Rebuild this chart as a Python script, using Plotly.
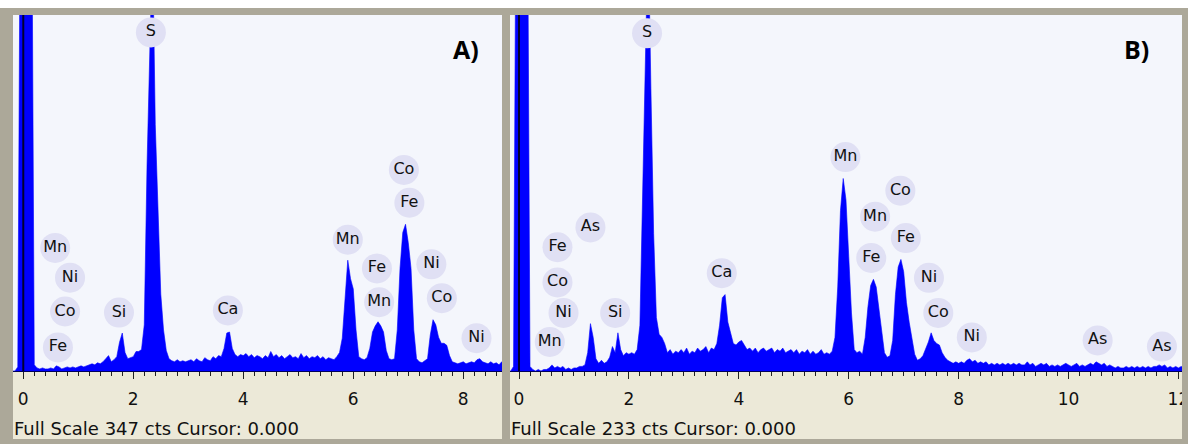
import numpy as np
import plotly.graph_objs as go

W, H = 1191, 444

# EDS spectra: counts per 0.05 keV channel, first channel at -0.20 keV
chan_start = -0.20
chan_step = 0.05

counts_a = [
    0, 0, 4, 520,
    # 0.00 - 0.95
    520, 520, 520, 520, 6, 3, 2, 3, 2, 2, 3, 2, 5, 4, 2, 3, 4, 3, 4, 3,
    # 1.00 - 1.95
    4, 5, 4, 5, 6, 7, 6, 8, 7, 9, 12, 15, 9, 11, 14, 28, 37, 18, 12, 13,
    # 2.00 - 2.95
    14, 19, 19, 21, 45, 200, 340, 420, 240, 160, 75, 40, 20, 12, 10, 9, 11, 9, 10, 9,
    # 3.00 - 3.95
    10, 11, 9, 12, 10, 9, 13, 11, 10, 14, 12, 15, 14, 22, 37, 38, 22, 16, 14, 16,
    # 4.00 - 4.95
    15, 17, 14, 16, 13, 15, 14, 12, 15, 13, 19, 14, 16, 13, 15, 12, 14, 16, 13, 14,
    # 5.00 - 5.95
    12, 17, 13, 15, 12, 14, 13, 15, 12, 14, 11, 13, 12, 11, 14, 18, 32, 75, 108, 90,
    # 6.00 - 6.95
    80, 40, 14, 12, 11, 13, 22, 38, 44, 48, 44, 38, 20, 12, 11, 12, 40, 100, 135, 143,
    # 7.00 - 7.95
    125, 100, 40, 12, 9, 8, 10, 12, 35, 50, 45, 33, 27, 27, 25, 15, 9, 8, 7, 8,
    # 8.00 - 8.75
    9, 7, 8, 9, 8, 11, 12, 9, 8, 7, 9, 7, 8, 6, 9, 7,
]

counts_b = [
    0, 0, 3, 350,
    # 0.00 - 0.95
    350, 350, 350, 350, 3, 1, 0, 1, 0, 1, 1, 2, 4, 2, 3, 2, 3, 1, 2, 1,
    # 1.00 - 1.95
    2, 2, 3, 3, 4, 12, 31, 22, 8, 5, 7, 5, 6, 9, 16, 12, 25, 14, 10, 12,
    # 2.00 - 2.95
    11, 12, 11, 14, 30, 110, 200, 290, 185, 90, 35, 24, 22, 18, 12, 14, 11, 13, 12, 14,
    # 3.00 - 3.95
    12, 15, 11, 13, 12, 15, 13, 14, 16, 12, 15, 14, 18, 30, 48, 50, 32, 24, 18, 17,
    # 4.00 - 4.95
    19, 20, 17, 14, 15, 13, 15, 12, 14, 15, 13, 14, 15, 12, 14, 13, 15, 12, 13, 14,
    # 5.00 - 5.95
    12, 14, 11, 13, 12, 14, 11, 13, 11, 12, 14, 11, 12, 11, 13, 22, 55, 105, 126, 112,
    # 6.00 - 6.95
    75, 38, 14, 12, 13, 11, 22, 42, 56, 60, 55, 40, 24, 12, 9, 10, 20, 50, 68, 73,
    # 7.00 - 7.95
    65, 45, 32, 22, 11, 7, 8, 10, 14, 19, 25, 20, 18, 17, 12, 9, 7, 6, 5, 6,
    # 8.00 - 8.95
    5, 6, 5, 7, 8, 6, 7, 5, 6, 5, 6, 4, 5, 4, 5, 4, 5, 4, 5, 4,
    # 9.00 - 9.95
    5, 4, 5, 4, 4, 6, 4, 5, 3, 4, 5, 4, 5, 3, 4, 3, 4, 3, 4, 5,
    # 10.00 - 10.95
    4, 3, 4, 5, 3, 4, 3, 4, 5, 4, 6, 5, 4, 5, 3, 4, 3, 2, 3, 2,
    # 11.00 - 11.95
    2, 3, 2, 3, 2, 3, 2, 3, 2, 3, 2, 3, 3, 4, 3, 4, 2, 3, 2, 3,
    # 12.00 - 12.15
    2, 3, 2, 3,
]

full_scale_a = 347
full_scale_b = 233

# peak labels: element, energy (keV), label height (cts)
lab_a_el = ["S", "Mn", "Ni", "Co", "Fe", "Si", "Ca", "Mn", "Fe", "Mn",
            "Co", "Fe", "Ni", "Co", "Ni"]
lab_a_kev = [2.32, 0.58, 0.85, 0.76, 0.63, 1.74, 3.72, 5.90, 6.43, 6.47,
             6.92, 7.02, 7.42, 7.61, 8.24]
lab_a_cts = [330, 120, 91, 58, 23, 57, 59, 128, 100, 67,
             196, 164, 104, 71, 32]

lab_b_el = ["S", "As", "Fe", "Co", "Ni", "Mn", "Si", "Ca", "Mn", "Co",
            "Mn", "Fe", "Fe", "Ni", "Co", "Ni", "As", "As"]
lab_b_kev = [2.33, 1.30, 0.70, 0.70, 0.81, 0.56, 1.75, 3.69, 5.94, 6.94,
             6.48, 7.04, 6.41, 7.46, 7.63, 8.24, 10.53, 11.70]
lab_b_cts = [221, 94, 81, 58, 38, 19, 38, 64, 140, 118,
             101, 87, 74, 61, 38, 22, 20, 16]

tick_vals_a = [0, 2, 4, 6, 8]
tick_vals_b = [0, 2, 4, 6, 8, 10, 12]


def px(x):
    return x / W


def py(y):
    return 1 - y / H


energy_a = chan_start + chan_step * np.arange(len(counts_a))
energy_b = chan_start + chan_step * np.arange(len(counts_b))

BLUE = "#0000ff"
PLOTBG = "#f4f6fc"
GRAY = "#aca899"
BEIGE = "#ece9d8"
BUBBLE = "#e0e0f4"
FONT = "DejaVu Sans"

fig = go.Figure()

panels = [
    (energy_a, counts_a, full_scale_a, lab_a_el, lab_a_kev, lab_a_cts, "x", "y"),
    (energy_b, counts_b, full_scale_b, lab_b_el, lab_b_kev, lab_b_cts, "x2", "y2"),
]
for en, cts, fs, el, kev, lh, xa, ya in panels:
    fig.add_trace(go.Scatter(x=en, y=cts, mode="lines", fill="tozeroy",
                             line=dict(color=BLUE, width=0.6), fillcolor=BLUE,
                             xaxis=xa, yaxis=ya, hoverinfo="skip"))
    # cursor at 0.000
    fig.add_trace(go.Scatter(x=[0, 0], y=[0, fs], mode="lines",
                             line=dict(color="#000030", width=2),
                             xaxis=xa, yaxis=ya, hoverinfo="skip"))
    fig.add_trace(go.Scatter(x=kev, y=lh, mode="markers+text", text=el,
                             textposition="middle center",
                             textfont=dict(family=FONT, size=16, color="#111"),
                             marker=dict(symbol="circle", size=30, color=BUBBLE,
                                         line=dict(width=0)),
                             xaxis=xa, yaxis=ya, hoverinfo="skip", cliponaxis=False))

# frames and backgrounds (pixel geometry of the instrument screenshot)
shapes = [
    dict(type="rect", xref="paper", yref="paper", x0=px(0), x1=px(1188), y0=py(444), y1=py(8),
         fillcolor=GRAY, line=dict(width=0), layer="below"),
    dict(type="rect", xref="paper", yref="paper", x0=px(13), x1=px(502), y0=py(371), y1=py(15),
         fillcolor=PLOTBG, line=dict(width=0), layer="below"),
    dict(type="rect", xref="paper", yref="paper", x0=px(510), x1=px(1182), y0=py(371), y1=py(15),
         fillcolor=PLOTBG, line=dict(width=0), layer="below"),
    dict(type="rect", xref="paper", yref="paper", x0=px(13), x1=px(502), y0=py(439), y1=py(371),
         fillcolor=BEIGE, line=dict(width=0), layer="below"),
    dict(type="rect", xref="paper", yref="paper", x0=px(510), x1=px(1182), y0=py(439), y1=py(371),
         fillcolor=BEIGE, line=dict(width=0), layer="below"),
    # right border drawn on top so the last tick label gets clipped
    dict(type="rect", xref="paper", yref="paper", x0=px(1182), x1=px(1188), y0=py(444), y1=py(8),
         fillcolor=GRAY, line=dict(width=0), layer="above"),
    dict(type="rect", xref="paper", yref="paper", x0=px(1188), x1=px(1191), y0=py(444), y1=py(0),
         fillcolor="white", line=dict(width=0), layer="above"),
]

axis_common = dict(showgrid=False, zeroline=False, showline=True, linecolor="#00005a",
                   linewidth=1, ticks="outside", ticklen=7, tickcolor="#222",
                   tickwidth=1, ticklabelstandoff=6, automargin=False,
                   tickfont=dict(family=FONT, size=17, color="#111"),
                   minor=dict(dtick=0.2, ticks="outside", ticklen=4, tickcolor="#222"),
                   fixedrange=True)
yaxis_common = dict(visible=False, fixedrange=True, automargin=False,
                    domain=[py(371), py(15)])

annotations = [
    dict(text="Full Scale 347 cts Cursor: 0.000", xref="paper", yref="paper",
         x=px(12), y=py(428), xanchor="left", yanchor="middle", showarrow=False,
         font=dict(family=FONT, size=18, color="#111")),
    dict(text="Full Scale 233 cts Cursor: 0.000", xref="paper", yref="paper",
         x=px(509), y=py(428), xanchor="left", yanchor="middle", showarrow=False,
         font=dict(family=FONT, size=18, color="#111")),
    dict(text="<b>A)</b>", xref="paper", yref="paper", x=px(466), y=py(49),
         xanchor="center", yanchor="middle", showarrow=False,
         font=dict(family="Open Sans", size=25, color="#000")),
    dict(text="<b>B)</b>", xref="paper", yref="paper", x=px(1136), y=py(49),
         xanchor="center", yanchor="middle", showarrow=False,
         font=dict(family="Open Sans", size=25, color="#000")),
]

fig.update_layout(
    width=W, height=H, margin=dict(l=0, r=0, t=0, b=0, autoexpand=False),
    paper_bgcolor="white", plot_bgcolor="rgba(0,0,0,0)", showlegend=False,
    xaxis=dict(domain=[px(13), px(502)], range=[-0.187, 8.704],
               tickvals=tick_vals_a, anchor="y", **axis_common),
    xaxis2=dict(domain=[px(510), px(1182)], range=[-0.164, 12.065],
                tickvals=tick_vals_b, anchor="y2", **axis_common),
    yaxis=dict(range=[0, full_scale_a], anchor="x", **yaxis_common),
    yaxis2=dict(range=[0, full_scale_b], anchor="x2", **yaxis_common),
    shapes=shapes, annotations=annotations,
)

# drop the default 8px body margin so the figure sits at the page corner
page_fix = "document.body.style.margin='0';document.body.style.overflow='hidden';"
fig.write_html("out.html", config={"displayModeBar": False}, post_script=page_fix)
